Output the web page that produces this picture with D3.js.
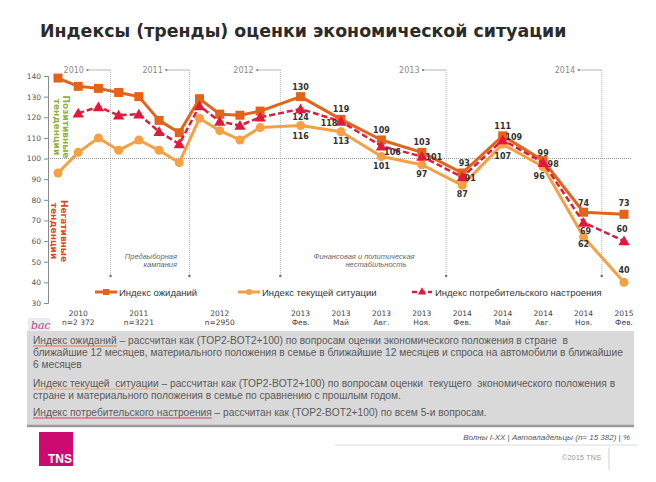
<!DOCTYPE html>
<html><head><meta charset="utf-8">
<script src="https://cdn.jsdelivr.net/npm/d3@7/dist/d3.min.js"></script>
<style>
body{margin:0;background:#fff;}
svg{display:block;}
</style></head>
<body>
<svg id="c" width="656" height="482"></svg>
<script>
// ---------- DATA ----------
const title = "Индексы (тренды) оценки экономической ситуации";
// position of each survey wave on the time axis (half-quarter units)
const waveX = [0,1,2,3,4,5,6,7,8,9,10,12,14,16,18,20,22,24,26,28];
const expectations = [139,135,134,132,130,118.5,112.5,129,121.5,121,123,130,119,109,103,93,111,99,74,73];
const currentSit   = [93,103,110,104,109,104,98,119.5,113.5,109,115,116,113,101,97,87,107,96,62,40];
const sentiment    = [null,122,125,121,121.5,113,107,125.5,118,116,120,124,118,106,101,91,109,98,69,60];
const labelFrom = 11; // value labels shown from this wave on

const tickPos   = [1,4,8,12,14,16,18,20,22,24,26,28];
const tickLine1 = ["2010","2011","2012","2013","2013","2013","2013","2014","2014","2014","2014","2015"];
const tickLine2 = ["n=2 372","n=3221","n=2950","Фев.","Май","Авг.","Ноя.","Фев.","Май","Авг.","Ноя.","Фев."];
const yTicks = [30,40,50,60,70,80,90,100,110,120,130,140];

const years = ["2010","2011","2012","2013","2014"];
const yearEnds = [2.6,6.5,11,19.2,26.9];

const seriesNames = ["Индекс ожиданий","Индекс текущей ситуации","Индекс потребительского настроения"];

const descLines = [
  {u:"Индекс ожиданий", t:" – рассчитан как (TOP2-BOT2+100) по вопросам оценки экономического положения в стране  в", s:0},
  {u:"", t:"ближайшие 12 месяцев, материального положения в семье в ближайшие 12 месяцев и спроса на автомобили в ближайшие", s:-1},
  {u:"", t:"6 месяцев", s:-1},
  {u:"Индекс текущей  ситуации", t:" – рассчитан как (TOP2-BOT2+100) по вопросам оценки  текущего  экономического положения в", s:1},
  {u:"", t:"стране и материального положения в семье по сравнению с прошлым годом.", s:-1},
  {u:"Индекс потребительского настроения", t:" – рассчитан как (TOP2-BOT2+100) по всем 5-и вопросам.", s:2}
];

// ---------- STYLE ----------
const colExp = "#e2631a", colCur = "#f5a043", colSent = "#d81f3d", colSentMark = "#e5173a";
const svg = d3.select("#c");
const x = d3.scaleLinear().domain([0,28]).range([58,624]);
const y = d3.scaleLinear().domain([30,140]).range([303,76]);
const sans = "'DejaVu Sans', Verdana, sans-serif";
const arial = "'Liberation Sans', Arial, sans-serif";

// title
svg.append("text").attr("x",40).attr("y",37).attr("font-family",sans).attr("font-weight","bold")
  .attr("font-size",17.4).attr("fill","#2b2b2b").text(title);

// year brackets
years.forEach((yr,i)=>{
  const xe = x(yearEnds[i]);
  const g = svg.append("g");
  g.append("text").attr("x",xe-47).attr("y",73).attr("font-family",sans).attr("font-size",8)
    .attr("fill","#8a8a8a").text(yr);
  g.append("rect").attr("x",xe-24).attr("y",69).attr("width",2).attr("height",2).attr("fill","#888");
  g.append("line").attr("x1",xe-22).attr("x2",xe).attr("y1",70).attr("y2",70)
    .attr("stroke","#b5b5b5").attr("stroke-width",1);
  g.append("line").attr("x1",xe).attr("x2",xe).attr("y1",70).attr("y2",276)
    .attr("stroke","#b5b5b5").attr("stroke-width",1).attr("stroke-dasharray","1,1");
  g.append("circle").attr("cx",xe).attr("cy",276).attr("r",1.3).attr("fill","#777");
});

// 100 reference line
svg.append("line").attr("x1",48).attr("x2",632).attr("y1",y(100)).attr("y2",y(100))
  .attr("stroke","#9a9a9a").attr("stroke-width",1).attr("stroke-dasharray","1,1");

// y axis
const ya = svg.append("g").attr("transform","translate(48,0)")
  .call(d3.axisLeft(y).tickValues(yTicks).tickSize(4).tickPadding(3));
ya.selectAll("path,line").attr("stroke","#8a8a8a");
ya.selectAll("text").attr("font-family",sans).attr("font-size",7.5).attr("fill","#555");

// x tick labels
const xl = svg.append("g");
tickPos.forEach((p,i)=>{
  const t = xl.append("text").attr("x",x(p)).attr("text-anchor","middle")
    .attr("font-family",sans).attr("font-size",7.5).attr("fill","#444");
  t.append("tspan").attr("x",x(p)).attr("y",316).text(tickLine1[i]);
  t.append("tspan").attr("x",x(p)).attr("y",325).text(tickLine2[i]);
});

// annotations
const ann = [{t:"Предвыборная",x:177,y:259,a:"end"},{t:"кампания",x:177,y:267,a:"end"},
  {t:"Финансовая и политическая",x:364,y:259,a:"middle"},{t:"нестабильность",x:376,y:267,a:"middle"}];
ann.forEach(a=>svg.append("text").attr("x",a.x).attr("y",a.y).attr("text-anchor",a.a)
  .attr("font-family",arial).attr("font-style","italic").attr("font-size",7.5).attr("fill","#666").text(a.t));

// vertical side labels
function vlabel(cx,cy,lines,color,gap){
  const g = svg.append("g").attr("transform",`translate(${cx},${cy}) rotate(90)`);
  lines.forEach((l,i)=>g.append("text").attr("x",0).attr("y",i*gap).attr("text-anchor","middle")
    .attr("font-family",sans).attr("font-weight","bold").attr("font-size",9).attr("fill",color).text(l));
}
vlabel(63,127,["Позитивные","тенденции"],"#8cb33a",9);
vlabel(61,231,["Негативные","тенденции"],"#e5451d",10);

// series
function pts(arr){ return waveX.map((w,i)=>({x:w,v:arr[i],i})); }
const line = d3.line().defined(d=>d.v!=null).x(d=>x(d.x)).y(d=>y(d.v));

const cur = pts(currentSit), exp = pts(expectations), sen = pts(sentiment);
svg.append("path").attr("d",line(cur)).attr("fill","none").attr("stroke",colCur).attr("stroke-width",3).attr("stroke-linejoin","round");
svg.selectAll(".cm").data(cur).join("circle").attr("cx",d=>x(d.x)).attr("cy",d=>y(d.v)).attr("r",4.5).attr("fill",colCur);

svg.append("path").attr("d",line(exp)).attr("fill","none").attr("stroke",colExp).attr("stroke-width",3).attr("stroke-linejoin","round");
svg.selectAll(".em").data(exp).join("rect").attr("x",d=>x(d.x)-4.5).attr("y",d=>y(d.v)-4.5)
  .attr("width",9).attr("height",9).attr("fill",colExp);

svg.append("path").attr("d",line(sen)).attr("fill","none").attr("stroke",colSent).attr("stroke-width",2.5).attr("stroke-dasharray","6,3");
const tri = d3.symbol().type(d3.symbolTriangle).size(55);
svg.selectAll(".sm").data(sen.filter(d=>d.v!=null)).join("path").attr("d",tri)
  .attr("transform",d=>`translate(${x(d.x)},${y(d.v)+1})`).attr("fill",colSentMark);

// value labels (offsets are placement styling)
const offExp = [[0,-7],[0,-7],[0,-7],[0,-7],[2,-7],[0,-7],[0,-5],[0,-6],[0,-8]];
const offCur = [[0,13],[0,12],[0,13],[0,12],[0,12],[0,15],[-4,12],[0,10],[0,-9]];
const offSen = [[0,11],[-12,5],[11,9],[12,4],[8,4],[11,0],[10,4],[2,11],[-2,-9]];
function vlabels(data,offs){
  data.slice(labelFrom).forEach((d,k)=>{
    svg.append("text").attr("x",x(d.x)+offs[k][0]).attr("y",y(d.v)+offs[k][1])
      .attr("text-anchor","middle").attr("font-family",sans).attr("font-weight","bold")
      .attr("font-size",8).attr("fill","#333").text(d3.format("d")(d.v));
  });
}
vlabels(exp,offExp); vlabels(cur,offCur); vlabels(sen,offSen);

// legend
const lg = svg.append("g").attr("font-family",arial).attr("font-size",9.5).attr("fill","#333");
const ly = 292;
const L = [{x1:95,x2:117,tx:119},{x1:238,x2:260,tx:262},{x1:412,x2:432,tx:435}];
lg.append("line").attr("x1",L[0].x1).attr("x2",L[0].x2).attr("y1",ly).attr("y2",ly).attr("stroke",colExp).attr("stroke-width",3);
lg.append("rect").attr("x",(L[0].x1+L[0].x2)/2-3).attr("y",ly-3).attr("width",6).attr("height",6).attr("fill",colExp);
lg.append("line").attr("x1",L[1].x1).attr("x2",L[1].x2).attr("y1",ly).attr("y2",ly).attr("stroke",colCur).attr("stroke-width",3);
lg.append("circle").attr("cx",(L[1].x1+L[1].x2)/2).attr("cy",ly).attr("r",3).attr("fill",colCur);
lg.append("line").attr("x1",L[2].x1).attr("x2",L[2].x2).attr("y1",ly).attr("y2",ly).attr("stroke",colSent).attr("stroke-width",2.5).attr("stroke-dasharray","5,3");
lg.append("path").attr("d",d3.symbol().type(d3.symbolTriangle).size(30)).attr("transform",`translate(${(L[2].x1+L[2].x2)/2},${ly})`).attr("fill",colSentMark);
seriesNames.forEach((n,i)=>lg.append("text").attr("x",L[i].tx).attr("y",ly+3.5).text(n));

// "bac" mark
svg.append("rect").attr("x",28).attr("y",318).attr("width",22).attr("height",13).attr("fill","#ececec");
svg.append("text").attr("x",31).attr("y",329).attr("font-family","'DejaVu Serif', serif").attr("font-style","italic")
  .attr("font-size",11).attr("fill","#c2408e").text("bac");

// description box
svg.append("rect").attr("x",27).attr("y",331).attr("width",607).attr("height",94).attr("fill","#d9d9d9");
svg.append("line").attr("x1",27).attr("x2",634).attr("y1",426).attr("y2",426).attr("stroke","#9a9a9a").attr("stroke-width",2.5);
const descY = [344,356,368,387,399,416];
const ulCol = [colExp,colCur,colSent];
descLines.forEach((d,i)=>{
  const t = svg.append("text").attr("x",33).attr("y",descY[i]).attr("font-family",arial)
    .attr("font-size",10.2).attr("fill","#595959").attr("xml:space","preserve").style("white-space","pre");
  if(d.u){ t.append("tspan").text(d.u); }
  t.append("tspan").text(d.t);
  if(d.u){
    const w = t.node().getSubStringLength(0,d.u.length);
    svg.append("line").attr("x1",33).attr("x2",33+w).attr("y1",descY[i]+2).attr("y2",descY[i]+2)
      .attr("stroke",ulCol[d.s]).attr("stroke-width",0.8);
  }
});

// footer
svg.append("text").attr("x",630).attr("y",440).attr("text-anchor","end").attr("font-family",arial)
  .attr("font-style","italic").attr("font-size",8).attr("fill","#555").text("Волны I-XX | Автовладельцы (n= 15 382) | %");
svg.append("line").attr("x1",335).attr("x2",638).attr("y1",445).attr("y2",445).attr("stroke","#dcdcdc");
svg.append("text").attr("x",601).attr("y",460).attr("text-anchor","end").attr("font-family",arial)
  .attr("font-size",7.5).attr("fill","#999").text("©2015 TNS");
svg.append("line").attr("x1",609).attr("x2",609).attr("y1",448).attr("y2",470).attr("stroke","#d0d0d0");
svg.append("rect").attr("x",39).attr("y",432).attr("width",34).attr("height",34).attr("fill","#cc0a6f");
svg.append("text").attr("x",60).attr("y",463).attr("text-anchor","middle").attr("font-family",arial)
  .attr("font-weight","bold").attr("font-size",12).attr("fill","#fff").text("TNS");
</script>
</body></html>
